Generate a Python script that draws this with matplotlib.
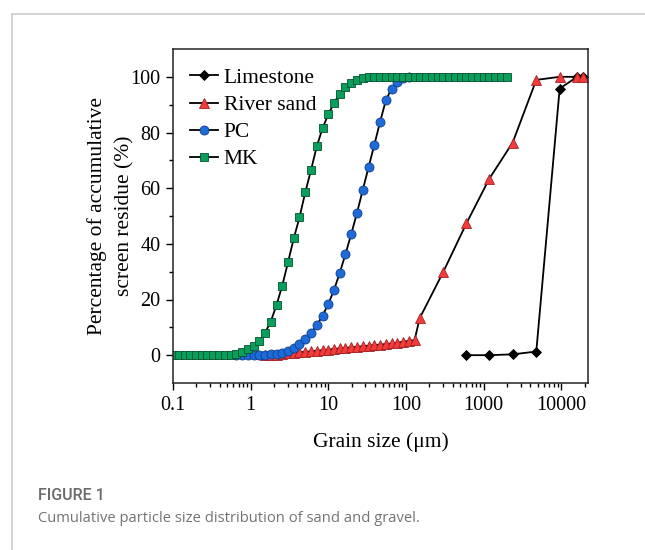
import matplotlib
matplotlib.use("Agg")
import matplotlib.pyplot as plt
from matplotlib.lines import Line2D
from matplotlib.ticker import LogLocator, FixedLocator, FuncFormatter, NullFormatter

# laser diffraction size classes (um)
size_laser = [0.100, 0.119, 0.141, 0.167, 0.198, 0.234, 0.278, 0.330, 0.391, 0.464,
              0.550, 0.652, 0.773, 0.917, 1.09, 1.29, 1.53, 1.81, 2.15, 2.55,
              3.02, 3.59, 4.25, 5.04, 5.98, 7.09, 8.41, 9.97, 11.8, 14.0,
              16.6, 19.7, 23.4, 27.8, 32.9, 39.0, 46.3, 54.9, 65.1, 77.2,
              91.5, 108.5, 128.7, 152.6, 181, 215, 255, 302, 358, 425,
              504, 597, 708, 840, 996, 1181, 1401, 1661, 1970]

# sieve openings (um)
size_sieve = [150, 300, 600, 1180, 2360, 4750, 9500, 16000, 19000]

mk_pct = [0, 0, 0, 0, 0, 0, 0, 0, 0, 0,
          0.2, 0.5, 1.3, 2.2, 3.3, 5.2, 8.0, 12.0, 18.0, 25.0,
          33.3, 42.0, 49.5, 58.5, 66.5, 75.0, 81.5, 86.5, 90.5, 94.0,
          96.3, 97.8, 99.0, 99.6, 99.9, 100, 100, 100, 100, 100,
          100, 100, 100, 100, 100, 100, 100, 100, 100, 100,
          100, 100, 100, 100, 100, 100, 100, 100, 100]

pc_size = size_laser[11:42]
pc_pct = [0, 0, 0, 0, 0.1, 0.2, 0.3, 0.5, 0.9, 1.5,
          2.4, 3.9, 5.7, 8.0, 10.7, 14.2, 18.3, 23.4, 29.5, 36.3,
          43.5, 51.2, 59.5, 67.5, 75.5, 83.8, 91.5, 95.8, 98.3, 99.5,
          100]

sand_size = size_laser[16:43] + size_sieve
sand_pct = [0.0, 0.1, 0.2, 0.4, 0.6, 0.8, 1.0, 1.2, 1.4, 1.6,
            1.8, 2.0, 2.2, 2.4, 2.6, 2.8, 3.0, 3.2, 3.4, 3.6,
            3.8, 4.0, 4.2, 4.5, 4.8, 5.1, 5.4,
            13.3, 29.8, 47.4, 63.4, 76.4, 98.9, 100, 100, 100]

lime_size = size_sieve[2:]
lime_pct = [0, 0, 0.3, 1.3, 95.8, 100, 100]

plt.rcParams['font.family'] = ['Liberation Serif', 'DejaVu Serif']

fig = plt.figure(figsize=(6.45, 5.5), dpi=100)

# page frame lines
fig.add_artist(Line2D([12 / 645, 1], [1 - 14 / 550, 1 - 14 / 550], color='#cccccc', lw=1.2))
fig.add_artist(Line2D([12 / 645, 12 / 645], [0, 1 - 14 / 550], color='#cccccc', lw=1.2))

ax = fig.add_axes([173 / 645, 1 - 383 / 550, 415 / 645, 334 / 550])

ms = dict(markeredgewidth=0.6, lw=1.3, color='black')
ax.plot(lime_size, lime_pct, marker='D', markersize=5.5, markerfacecolor='black',
        markeredgecolor='black', label='Limestone', **ms)
ax.plot(sand_size, sand_pct, marker='^', markersize=6.5, markerfacecolor='#f23b3b',
        markeredgecolor='#a52020', label='River sand', **ms)
ax.plot(pc_size, pc_pct, marker='o', markersize=6.5, markerfacecolor='#1d6ad8',
        markeredgecolor='#0d3f8a', label='PC', **ms)
ax.plot(size_laser, mk_pct, marker='s', markersize=5.2, markerfacecolor='#0a9e5c',
        markeredgecolor='#05502d', label='MK', **ms)

ax.set_xscale('log')
ax.set_xlim(0.1, 22000)
ax.set_ylim(-10, 110)
ax.yaxis.set_major_locator(FixedLocator([0, 20, 40, 60, 80, 100]))
ax.yaxis.set_minor_locator(FixedLocator([10, 30, 50, 70, 90]))
ax.xaxis.set_major_locator(LogLocator(base=10, numticks=10))
ax.xaxis.set_minor_locator(LogLocator(base=10, subs=range(2, 10), numticks=20))
ax.xaxis.set_major_formatter(FuncFormatter(lambda v, p: f'{v:g}'))
ax.xaxis.set_minor_formatter(NullFormatter())

ax.tick_params(which='both', direction='out', top=False, right=False,
               labelsize=14.5, width=1.0, pad=4)
ax.tick_params(which='major', length=5)
ax.tick_params(which='minor', length=3)
for sp in ax.spines.values():
    sp.set_linewidth(1.1)
    sp.set_color('#222222')

ax.set_xlabel('Grain size (μm)', fontsize=15.5, labelpad=13)
ax.set_ylabel('Percentage of accumulative\nscreen residue (%)', fontsize=15.5,
              labelpad=-3, linespacing=1.6)

ax.legend(loc='upper left', bbox_to_anchor=(0.0, 0.995), frameon=False, fontsize=15.5,
          handlelength=1.3, handletextpad=0.25, labelspacing=0.33, borderaxespad=0.5,
          borderpad=0.3)

fig.text(38 / 645, 1 - 495 / 550, 'FIGURE 1', fontsize=11.5, color='#6b6b6b',
         family='Roboto', weight='medium', va='center')
fig.text(38 / 645, 1 - 519 / 550, 'Cumulative particle size distribution of sand and gravel.',
         fontsize=10.6, color='#737373', family='Open Sans', va='center')

fig.savefig('out.png', dpi=100)
